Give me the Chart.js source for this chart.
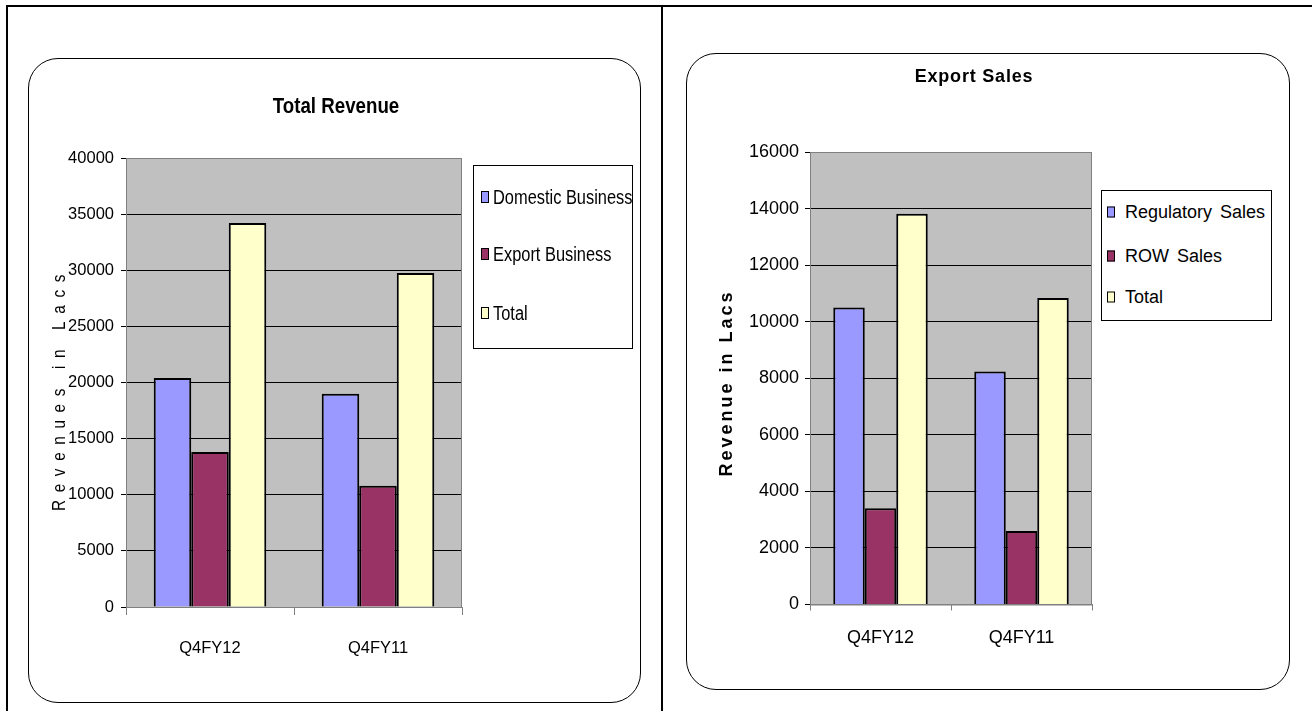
<!DOCTYPE html>
<html>
<head>
<meta charset="utf-8">
<script src="https://cdn.jsdelivr.net/npm/chart.js@4.4.1/dist/chart.umd.min.js"></script>
<style>
body { margin:0; background:#fff; width:1312px; height:711px; overflow:hidden; position:relative; }
.rule { position:absolute; background:#000; }
.box { position:absolute; border:1px solid #000; border-radius:30px; background:#fff; box-sizing:border-box; }
canvas.chart { position:absolute; }
.legend { position:absolute; border:1px solid #000; background:#fff; box-sizing:border-box; }
.legend .item { position:absolute; white-space:nowrap; color:#000; transform-origin:left center; }
.legend .sw { position:absolute; border:1px solid #000; box-sizing:border-box; transform:translateY(-50%); }
</style>
</head>
<body>
<div class="rule" style="left:6px;top:5px;width:1306px;height:2px"></div>
<div class="rule" style="left:6px;top:5px;width:2px;height:706px"></div>
<div class="rule" style="left:661px;top:5px;width:2px;height:706px"></div>

<div class="box" style="left:28px;top:58px;width:613px;height:645px"></div>
<div class="box" style="left:686px;top:53px;width:604px;height:637px"></div>

<canvas id="revenue" class="chart" width="612" height="643" style="left:29px;top:59px"></canvas>
<canvas id="exportSales" class="chart" width="603" height="635" style="left:686px;top:54px"></canvas>

<div id="revenueLegend" class="legend" style="left:473px;top:165px;width:160px;height:184px"></div>
<div id="exportLegend" class="legend" style="left:1101px;top:190px;width:171px;height:131px"></div>

<script>
// data
var categories = ["Q4FY12", "Q4FY11"];

var domesticBusiness = [20400, 19000];
var exportBusiness = [13800, 10800];
var totalRevenue = [34200, 29750];

var regulatorySales = [10500, 8240];
var rowSales = [3400, 2600];
var totalExport = [13820, 10840];

var blue = "#9999ff", plum = "#993366", cream = "#ffffcc";
var arial = "'Liberation Sans', Arial, sans-serif";

// grey plot area, frame, title and spaced y title
var plotFrame = {
    id: 'plotFrame',
    beforeDraw: function(chart) {
        var a = chart.chartArea, ctx = chart.ctx;
        ctx.save();
        ctx.fillStyle = '#c0c0c0';
        ctx.fillRect(a.left, a.top, a.right - a.left, a.bottom - a.top);
        ctx.restore();
    },
    beforeDatasetsDraw: function(chart) {
        var a = chart.chartArea, ctx = chart.ctx;
        ctx.save();
        ctx.strokeStyle = '#808080';
        ctx.lineWidth = 1;
        ctx.strokeRect(a.left + 0.5, a.top + 0.5, a.right - a.left - 1, a.bottom - a.top);
        ctx.restore();
    },
    afterDraw: function(chart, args, opts) {
        var ctx = chart.ctx;
        ctx.save();
        ctx.fillStyle = '#000';
        ctx.textAlign = 'center';
        ctx.textBaseline = 'middle';
        // title (squeezed horizontally when the chart uses a narrow face)
        ctx.save();
        ctx.translate(opts.headX, opts.headY);
        ctx.scale(opts.squeeze, 1);
        ctx.font = opts.headFont;
        ctx.letterSpacing = opts.headSpacing || '0px';
        ctx.fillText(opts.head, 0, 0);
        ctx.restore();
        // axis title
        ctx.translate(opts.axisX, opts.axisY);
        ctx.rotate(-Math.PI / 2);
        ctx.scale(opts.squeeze, 1);
        ctx.font = opts.axisFont;
        ctx.letterSpacing = opts.axisSpacing;
        ctx.fillText(opts.axisText, 0, 0);
        ctx.restore();
    }
};

function barSet(label, values, color) {
    return {
        label: label,
        data: values,
        backgroundColor: color,
        borderColor: '#000',
        borderWidth: 2,
        categoryPercentage: 0.67,
        barPercentage: 1.0
    };
}

function makeChart(id, cfg) {
    var ctx = document.getElementById(id).getContext("2d");
    return new Chart(ctx, {
        type: 'bar',
        data: {
            labels: categories,
            datasets: cfg.datasets
        },
        plugins: [plotFrame],
        options: {
            responsive: false,
            animation: false,
            layout: { padding: { top: cfg.top, right: cfg.right, bottom: 0, left: 0 } },
            plugins: {
                legend: { display: false },
                title: { display: false },
                tooltip: { enabled: false },
                plotFrame: cfg.frame
            },
            scales: {
                x: {
                    afterFit: function(s) { s.height = cfg.xHeight; },
                    grid: { offset: true, drawOnChartArea: false, drawTicks: true, tickLength: cfg.xTick, tickColor: '#808080' },
                    border: { color: '#808080', width: 1 },
                    ticks: { color: '#000', font: cfg.tickFont, padding: cfg.xPad }
                },
                y: {
                    min: 0,
                    max: cfg.max,
                    afterFit: function(s) { s.width = cfg.yWidth; },
                    grid: { color: '#000', lineWidth: 1, tickLength: 5, tickColor: '#000' },
                    border: { color: '#808080', width: 1 },
                    ticks: {
                        stepSize: cfg.step, color: '#000', font: cfg.tickFont, padding: cfg.yPad,
                        callback: function(v) { return String(v); }
                    }
                }
            }
        }
    });
}

function buildLegend(chart, boxId, opts) {
    var box = document.getElementById(boxId);
    chart.data.datasets.forEach(function(ds, i) {
        var sw = document.createElement('span');
        sw.className = 'sw';
        sw.style.left = opts.swLeft + 'px';
        sw.style.top = opts.rows[i] + 'px';
        sw.style.width = opts.swW + 'px';
        sw.style.height = opts.swH + 'px';
        sw.style.background = ds.backgroundColor;
        box.appendChild(sw);
        var t = document.createElement('div');
        t.className = 'item';
        t.textContent = ds.label;
        t.style.left = opts.textLeft + 'px';
        t.style.top = opts.rows[i] + 'px';
        t.style.font = opts.font;
        t.style.transform = 'translateY(-50%) scaleX(' + opts.squeeze + ')';
        t.style.wordSpacing = opts.wordSpacing || '0px';
        box.appendChild(t);
    });
}

var revenueChart = makeChart("revenue", {
    datasets: [
        barSet("Domestic Business", domesticBusiness, blue),
        barSet("Export Business", exportBusiness, plum),
        barSet("Total", totalRevenue, cream)
    ],
    top: 99, right: 179, max: 40000, step: 5000,
    xHeight: 95, yWidth: 97, xTick: 8, xPad: 24, yPad: 7,
    tickFont: { family: arial, size: 16.5 },
    frame: {
        squeeze: 0.85,
        head: "Total Revenue", headFont: "bold 22px " + arial, headX: 307, headY: 48,
        axisText: "Revenues in Lacs", axisFont: "18px " + arial, axisSpacing: "9px", axisX: 31, axisY: 330
    }
});

var exportChart = makeChart("exportSales", {
    datasets: [
        barSet("Regulatory Sales", regulatorySales, blue),
        barSet("ROW Sales", rowSales, plum),
        barSet("Total", totalExport, cream)
    ],
    top: 98, right: 197, max: 16000, step: 2000,
    xHeight: 84.5, yWidth: 124, xTick: 6, xPad: 17, yPad: 6,
    tickFont: { family: arial, size: 18 },
    frame: {
        squeeze: 1,
        head: "Export Sales", headFont: "bold 18px " + arial, headSpacing: "0.8px", headX: 288, headY: 23,
        axisText: "Revenue in Lacs", axisFont: "bold 18px " + arial, axisSpacing: "3px", axisX: 41, axisY: 329
    }
});

buildLegend(revenueChart, "revenueLegend", {
    swLeft: 7, swW: 8, swH: 12, textLeft: 19, rows: [31, 88, 147], font: "20px " + arial, squeeze: 0.82
});
buildLegend(exportChart, "exportLegend", {
    swLeft: 5, swW: 8, swH: 11, textLeft: 23, rows: [21, 65, 106], font: "18px " + arial, squeeze: 1, wordSpacing: "3px"
});
</script>
</body>
</html>
